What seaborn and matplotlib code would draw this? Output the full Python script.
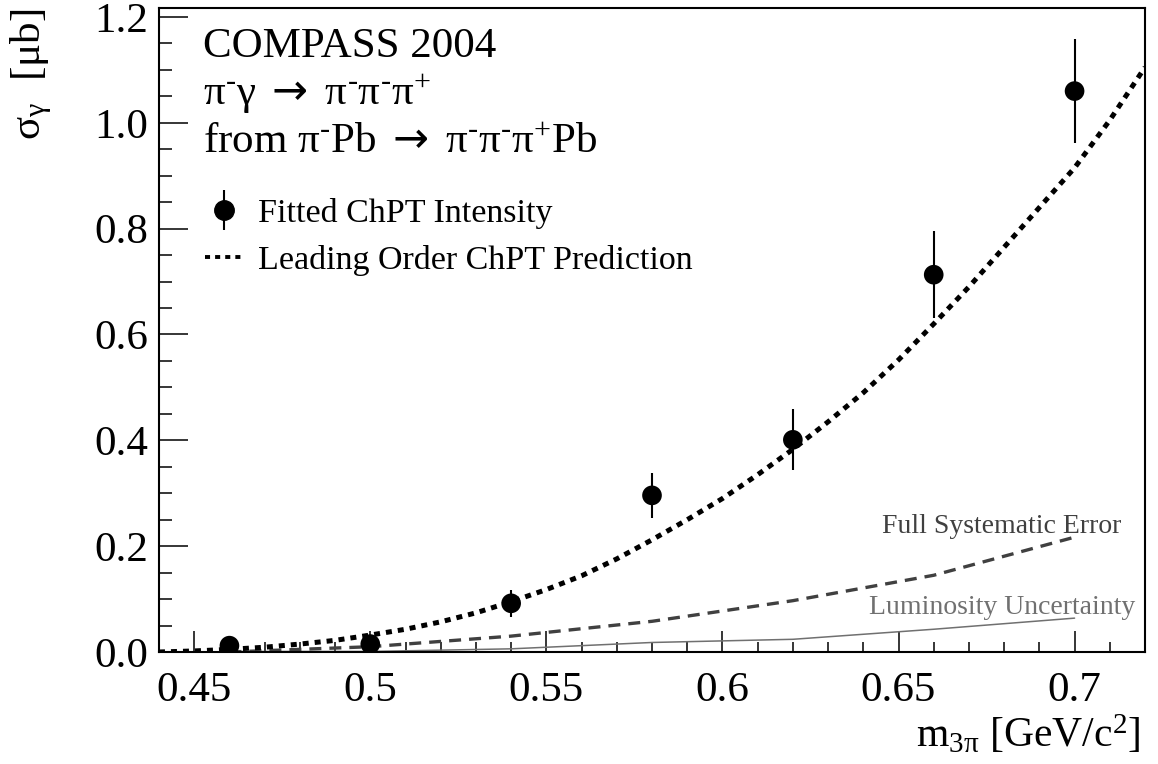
import numpy as np
import pandas as pd
import seaborn as sns
import matplotlib
matplotlib.use("Agg")
import matplotlib.pyplot as plt
from matplotlib.lines import Line2D
from matplotlib.ticker import MultipleLocator

# measured points
mass = [0.46, 0.50, 0.54, 0.58, 0.62, 0.66, 0.70]
sigma = [0.012, 0.015, 0.092, 0.296, 0.401, 0.713, 1.060]
sigma_err = [0.005, 0.010, 0.026, 0.043, 0.058, 0.082, 0.098]

# leading order prediction
lo_mass = [0.44, 0.45, 0.46, 0.47, 0.48, 0.49, 0.50, 0.51, 0.52, 0.53, 0.54,
           0.55, 0.56, 0.57, 0.58, 0.59, 0.60, 0.61, 0.62, 0.63, 0.64, 0.65,
           0.66, 0.67, 0.68, 0.69, 0.70, 0.71, 0.72]
lo_sigma = [0.000, 0.002, 0.005, 0.009, 0.015, 0.022, 0.032, 0.043, 0.057, 0.074, 0.095,
            0.118, 0.144, 0.176, 0.212, 0.250, 0.290, 0.335, 0.383, 0.435, 0.490, 0.552,
            0.620, 0.690, 0.765, 0.840, 0.915, 1.005, 1.105]

# systematic bands
sys_mass = [0.46, 0.50, 0.54, 0.58, 0.62, 0.66, 0.70]
sys_full = [0.000, 0.010, 0.030, 0.058, 0.097, 0.145, 0.217]
sys_lumi = [0.001, 0.001, 0.006, 0.018, 0.024, 0.043, 0.064]

df_pts = pd.DataFrame({"m": mass, "s": sigma})
df_lo = pd.DataFrame({"m": lo_mass, "s": lo_sigma})
df_sys = pd.DataFrame({"m": sys_mass, "full": sys_full, "lumi": sys_lumi})

sns.set_theme(style="ticks")
plt.rcParams["font.family"] = ["Liberation Serif", "DejaVu Sans"]
plt.rcParams["mathtext.fontset"] = "custom"
plt.rcParams["mathtext.rm"] = "Liberation Serif"
plt.rcParams["mathtext.it"] = "Liberation Serif:italic"
plt.rcParams["mathtext.bf"] = "Liberation Serif:bold"
plt.rcParams["mathtext.sf"] = "DejaVu Sans"
plt.rcParams["mathtext.fallback"] = "stix"
plt.rcParams["text.color"] = "black"
plt.rcParams["xtick.color"] = "black"
plt.rcParams["ytick.color"] = "black"

W, H = 1158, 764
fig = plt.figure(figsize=(W / 100, H / 100), dpi=100)
ax = fig.add_axes([159 / W, 1 - 652 / H, (1145 - 159) / W, (652 - 8) / H])

sns.lineplot(data=df_sys, x="m", y="lumi", ax=ax, color="#707070", lw=1.1)
sns.lineplot(data=df_sys, x="m", y="full", ax=ax, color="#404040", lw=2.4)
ax.lines[-1].set_dashes((3.6, 2.4))
sns.lineplot(data=df_lo, x="m", y="s", ax=ax, color="black", lw=3.6)
lo_line = ax.lines[-1]
lo_line.set_dashes((1.2, 1.2))
lo_line.set_dash_capstyle("butt")

ax.errorbar(mass, sigma, yerr=sigma_err, fmt="none", ecolor="black", elinewidth=1.5, capsize=0)
sns.scatterplot(data=df_pts, x="m", y="s", ax=ax, color="black", s=200, edgecolor="none", zorder=5)

ax.set_xlim(0.44, 0.72)
ax.set_ylim(0.0, 1.217)
ax.set_xlabel("")
ax.set_ylabel("")
ax.xaxis.set_minor_locator(MultipleLocator(0.01))
ax.yaxis.set_minor_locator(MultipleLocator(0.05))
ax.set_xticks([0.45, 0.5, 0.55, 0.6, 0.65, 0.7])
ax.set_xticklabels(["0.45", "0.5", "0.55", "0.6", "0.65", "0.7"])
ax.set_yticks([0.0, 0.2, 0.4, 0.6, 0.8, 1.0, 1.2])
ax.set_yticklabels(["0.0", "0.2", "0.4", "0.6", "0.8", "1.0", "1.2"])
ax.tick_params(axis="both", which="both", direction="in", bottom=True, left=True,
               top=False, right=False, labelsize=31)
ax.tick_params(axis="x", which="major", length=15, width=1.1, pad=14)
ax.tick_params(axis="x", which="minor", length=7, width=1.1)
ax.tick_params(axis="y", which="major", length=21, width=1.1, pad=8)
ax.tick_params(axis="y", which="minor", length=9.5, width=1.1)
for sp in ax.spines.values():
    sp.set_color("black")
    sp.set_linewidth(1.5)

# axis titles
fig.text(1140 / W, 1 - 747 / H, r"m$_{\mathrm{3π}}$ [GeV/c$^{\mathrm{2}}$]", fontsize=30,
         ha="right", va="baseline")
fig.text(31 / W, 1 - 9 / H, r"σ$_{\mathrm{γ}}$  [μb]", fontsize=31, rotation=90,
         ha="center", va="top")

# header text
mi = r"$^{\mathrm{‐}}$"
pl = r"$^{\mathrm{+}}$"
arr = r" $\mathsf{\rightarrow}$ "
fig.text(203 / W, 1 - 57 / H, "COMPASS 2004", fontsize=31, va="baseline")
fig.text(203 / W, 1 - 105 / H, "π" + mi + "γ" + arr + "π" + mi + "π" + mi + "π" + pl,
         fontsize=31, va="baseline")
fig.text(203 / W, 1 - 153 / H, "from π" + mi + "Pb" + arr + "π" + mi + "π" + mi + "π" + pl + "Pb",
         fontsize=31, va="baseline")

fig.text(1121 / W, 1 - 533 / H, "Full Systematic Error", fontsize=20, color="#404040",
         ha="right", va="baseline")
fig.text(1135 / W, 1 - 614 / H, "Luminosity Uncertainty", fontsize=20, color="#707070",
         ha="right", va="baseline")

# legend
h_bar = Line2D([], [], marker="|", markersize=29, mew=1.5, color="black", ls="none")
h_dot = Line2D([], [], marker="o", markersize=14, color="black", ls="none")
h_lo = Line2D([], [], color="black", lw=2.8, dashes=(1.3, 1.3), dash_capstyle="butt")
leg = ax.legend([(h_bar, h_dot), h_lo],
                ["Fitted ChPT Intensity", "Leading Order ChPT Prediction"],
                loc="upper left", bbox_to_anchor=(205 / W, 1 - 198 / H),
                bbox_transform=fig.transFigure, frameon=False, fontsize=24.5,
                handlelength=1.1, handletextpad=0.47, labelspacing=0.48,
                borderpad=0, borderaxespad=0)

fig.savefig("out.png", dpi=100)
